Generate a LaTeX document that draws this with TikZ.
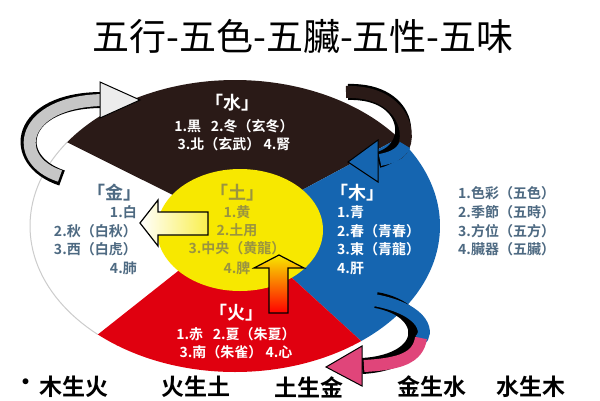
\documentclass[tikz,border=0pt]{standalone}
\usepackage{fontspec}
\newfontfamily\cjk{Noto Sans CJK TC}
\newfontfamily\cjkb{Noto Sans CJK TC Bold}
\definecolor{kblack}{HTML}{2A1A17}
\definecolor{kblue}{HTML}{1565B0}
\definecolor{kred}{HTML}{E0000F}
\definecolor{kyel}{HTML}{F7E800}
\definecolor{kgold}{HTML}{9A9440}
\definecolor{kslate}{HTML}{4E6A82}
\definecolor{kpink}{HTML}{E0457A}
\tikzset{
 lbl/.style={font=\cjkb\fontsize{14}{16}\selectfont,inner sep=0pt},
 ttl/.style={font=\cjkb\fontsize{18}{20}\selectfont,inner sep=0pt},
 bot/.style={font=\cjkb\fontsize{23}{26}\selectfont,inner sep=0pt},
 band/.style={line width=16pt},
 bandin/.style={line width=12pt},
}
\begin{document}
\begin{tikzpicture}[x=1pt,y=-1pt]
\useasboundingbox (0,0) rectangle (600,400);
\fill[white] (0,0) rectangle (600,400);
% sectors
\def\cx{235}\def\cy{226}\def\rx{205}\def\ry{146}
\fill[white] (\cx,\cy) ellipse [x radius=\rx, y radius=\ry];
\draw[gray!40,line width=1pt] plot[domain=145:228,samples=40] ({\cx+\rx*cos(\x)},{\cy-\ry*sin(\x)});
\fill[kblack] (\cx,\cy) -- plot[domain=37:145,samples=60] ({\cx+\rx*cos(\x)},{\cy-\ry*sin(\x)}) -- cycle;
\fill[kblue] (\cx,\cy) -- plot[domain=-52:37,samples=60] ({\cx+\rx*cos(\x)},{\cy-\ry*sin(\x)}) -- cycle;
\fill[kred] (\cx,\cy) -- plot[domain=-132:-52,samples=60] ({\cx+\rx*cos(\x)},{\cy-\ry*sin(\x)}) -- cycle;
\fill[kyel] (240,230) ellipse [x radius=83, y radius=61];
% title
\node[font=\cjk\fontsize{37}{40}\selectfont] (title) at (303,36) {五行-五色-五臟-五性-五味};
% water
\node[ttl,white] (w0) at (232,103) {「水」};
\node[lbl,white] (w1) at (234,126) {1.黒\ \ \ 2.冬（玄冬）};
\node[lbl,white] (w2) at (234,144) {3.北（玄武）\ 4.腎};
% earth
\node[ttl,kgold] (e0) at (237,193) {「土」};
\node[lbl,kgold] (e1) at (237,212) {1.黄};
\node[lbl,kgold] (e2) at (237,230) {2.土用};
\node[lbl,kgold] (e3) at (237,248) {3.中央（黄龍）};
\node[lbl,kgold] (e4) at (237,268) {4.脾};
% wood
\node[ttl,white,anchor=west] (m0) at (330,193) {「木」};
\node[lbl,white,anchor=west] (m1) at (337,212) {1.青};
\node[lbl,white,anchor=west] (m2) at (337,231) {2.春（青春）};
\node[lbl,white,anchor=west] (m3) at (337,249) {3.東（青龍）};
\node[lbl,white,anchor=west] (m4) at (337,268) {4.肝};
% metal
\node[ttl,kslate,anchor=east] (g0) at (142,193) {「金」};
\node[lbl,kslate,anchor=east] (g1) at (137,212) {1.白};
\node[lbl,kslate,anchor=east] (g2) at (137,231) {2.秋（白秋）};
\node[lbl,kslate,anchor=east] (g3) at (137,249) {3.西（白虎）};
\node[lbl,kslate,anchor=east] (g4) at (137,268) {4.肺};
% fire
\node[ttl,white] (f0) at (236,313) {「火」};
\node[lbl,white] (f1) at (236,334) {1.赤\ \ \ 2.夏（朱夏）};
\node[lbl,white] (f2) at (236,352) {3.南（朱雀）\ 4.心};
% legend
\node[lbl,kslate,anchor=west] (l1) at (458,193) {1.色彩（五色）};
\node[lbl,kslate,anchor=west] (l2) at (458,212) {2.季節（五時）};
\node[lbl,kslate,anchor=west] (l3) at (458,231) {3.方位（五方）};
\node[lbl,kslate,anchor=west] (l4) at (458,249) {4.臟器（五臟）};
% bottom
\node[bot] (c0) at (26,385) {•};
\node[bot] (c1) at (74,387) {木生火};
\node[bot] (c2) at (196,387) {火生土};
\node[bot] (c3) at (309,387) {土生金};
\node[bot] (c4) at (432,387) {金生水};
\node[bot] (c5) at (531,387) {水生木};
% top-left gray arrow
\draw[band,black] (62,178) .. controls (8,160) and (18,100) .. (102,100);
\draw[bandin,gray!45] (60,176) .. controls (10,160) and (20,101) .. (104,100);
\filldraw[fill=gray!15,draw=black,line width=1pt] (100,82) -- (140,100) -- (100,118) -- cycle;
% top-right black/blue arrow
\draw[band,black] (348,92) .. controls (412,90) and (418,150) .. (378,160);
\draw[bandin,kblack] (346,92) .. controls (410,90) and (416,148) .. (395,155);
\draw[bandin,kblue] (405,145) .. controls (400,155) and (390,158) .. (380,160);
\filldraw[fill=kblue,draw=black,line width=1pt] (378,140) -- (348,162) -- (378,182) -- cycle;
% bottom-right blue/pink arrow
\draw[band,black] (376,300) .. controls (432,310) and (432,362) .. (362,366);
\draw[bandin,kblue] (374,300) .. controls (428,310) and (428,335) .. (420,340);
\draw[bandin,kpink] (421,338) .. controls (418,358) and (400,364) .. (364,366);
\filldraw[fill=kpink,draw=black,line width=1pt] (362,346) -- (326,367) -- (362,386) -- cycle;
% left block arrow
\shade[left color=white,right color=kyel!70] (208,212) -- (158,212) -- (158,200) -- (140,223) -- (158,246) -- (158,235) -- (208,235) -- cycle;
\draw[black,line width=1.2pt] (208,212) -- (158,212) -- (158,200) -- (140,223) -- (158,246) -- (158,235) -- (208,235) -- cycle;
% up block arrow
\shade[top color=kyel,bottom color=red] (269,313) -- (269,268) -- (254,268) -- (279,255) -- (304,268) -- (288,268) -- (288,313) -- cycle;
\draw[black,line width=1.2pt] (269,313) -- (269,268) -- (254,268) -- (279,255) -- (304,268) -- (288,268) -- (288,313) -- cycle;
\end{tikzpicture}
\end{document}
